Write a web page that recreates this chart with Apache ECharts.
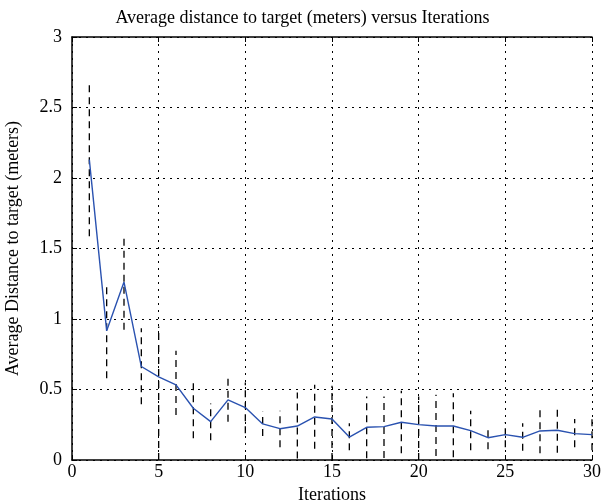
<!DOCTYPE html>
<html>
<head>
<meta charset="utf-8">
<script src="https://cdn.jsdelivr.net/npm/echarts@6/dist/echarts.min.js"></script>
<style>
  html, body { margin: 0; padding: 0; background: #fff; }
  #chart { width: 605px; height: 504px; }
</style>
</head>
<body>
<div id="chart"></div>
<script>
// data
var iterations = [1, 2, 3, 4, 5, 6, 7, 8, 9, 10, 11, 12, 13, 14, 15,
                  16, 17, 18, 19, 20, 21, 22, 23, 24, 25, 26, 27, 28, 29, 30]
var avgDistance = [2.13, 0.916, 1.262, 0.663, 0.59, 0.533, 0.367, 0.272, 0.426, 0.372,
                   0.256, 0.222, 0.241, 0.305, 0.291, 0.163, 0.232, 0.237, 0.268, 0.251,
                   0.241, 0.241, 0.208, 0.158, 0.18, 0.161, 0.206, 0.211, 0.187, 0.18]
var errHigh = [2.675, 1.255, 1.605, 0.935, 0.947, 0.775, 0.575, 0.400, 0.597, 0.55,
               0.343, 0.350, 0.478, 0.533, 0.526, 0.260, 0.450, 0.450, 0.492, 0.450,
               0.462, 0.473, 0.350, 0.237, 0.270, 0.260, 0.360, 0.374, 0.291, 0.295]
var errLow = [1.586, 0.580, 0.923, 0.396, 0.0, 0.320, 0.154, 0.140, 0.272, 0.19,
              0.170, 0.090, 0.010, 0.080, 0.0, 0.070, 0.012, 0.014, 0.047, 0.0,
              0.028, 0.019, 0.070, 0.077, 0.09, 0.066, 0.047, 0.052, 0.090, 0.07]
var xTicks = ['0', '5', '10', '15', '20', '25', '30']
var yTicks = ['0', '0.5', '1', '1.5', '2', '2.5', '3']

var chart = echarts.init(document.getElementById('chart'))

var lineData = iterations.map(function(x, i) { return [x, avgDistance[i]] })
var errData = iterations.map(function(x, i) { return [x, errLow[i], errHigh[i]] })

var font = 'Liberation Serif, Times New Roman, serif'
var gridLine = { show: true, lineStyle: { color: '#000', type: [2, 5], width: 1 } }

chart.setOption({
    animation: false,
    textStyle: { fontFamily: font },
    title: {
        text: 'Average distance to target (meters) versus Iterations',
        left: 'center',
        top: 4,
        textStyle: { fontFamily: font, fontSize: 18, fontWeight: 'normal', color: '#000' }
    },
    grid: { left: 72, right: 13, top: 37, bottom: 44, outerBoundsMode: 'none' },
    xAxis: [
        {
            type: 'value',
            min: 0,
            max: 30,
            interval: 5,
            name: 'Iterations',
            nameLocation: 'middle',
            nameGap: 24,
            nameTextStyle: { fontFamily: font, fontSize: 18, color: '#000' },
            axisLine: { lineStyle: { color: '#000', width: 1.5 } },
            axisTick: { inside: true, length: 5, lineStyle: { color: '#000' } },
            axisLabel: {
                color: '#000', fontSize: 18, fontFamily: font, margin: 3,
                formatter: function(v) { return xTicks[v / 5] }
            },
            splitLine: gridLine
        },
        {
            type: 'value',
            position: 'top',
            min: 0,
            max: 30,
            interval: 5,
            axisLine: { show: true, onZero: false, lineStyle: { color: '#000', width: 1.5 } },
            axisTick: { show: true, inside: true, length: 5, lineStyle: { color: '#000' } },
            axisLabel: { show: false },
            splitLine: { show: false }
        }
    ],
    yAxis: {
        type: 'value',
        min: 0,
        max: 3,
        interval: 0.5,
        name: 'Average Distance to target (meters)',
        nameLocation: 'middle',
        nameGap: 50,
        nameTextStyle: { fontFamily: font, fontSize: 18, color: '#000' },
        axisLine: { show: true, lineStyle: { color: '#000', width: 1.5 } },
        axisTick: { show: true, inside: true, length: 5, lineStyle: { color: '#000' } },
        axisLabel: {
            color: '#000', fontSize: 18, fontFamily: font, margin: 10,
            formatter: function(v) { return yTicks[Math.round(v * 2)] }
        },
        splitLine: gridLine
    },
    series: [
        {
            name: 'error',
            type: 'custom',
            xAxisIndex: 0,
            data: errData,
            renderItem: function(params, api) {
                var lo = api.coord([api.value(0), api.value(1)])
                var hi = api.coord([api.value(0), api.value(2)])
                return {
                    type: 'line',
                    shape: { x1: lo[0], y1: lo[1], x2: hi[0], y2: hi[1] },
                    style: { stroke: '#000', lineWidth: 1.3, lineDash: [7, 5] }
                }
            },
            z: 2
        },
        {
            name: 'mean',
            type: 'line',
            xAxisIndex: 0,
            data: lineData,
            symbol: 'none',
            lineStyle: { color: '#2a52b0', width: 1.4 },
            z: 3
        }
    ]
})
</script>
</body>
</html>
